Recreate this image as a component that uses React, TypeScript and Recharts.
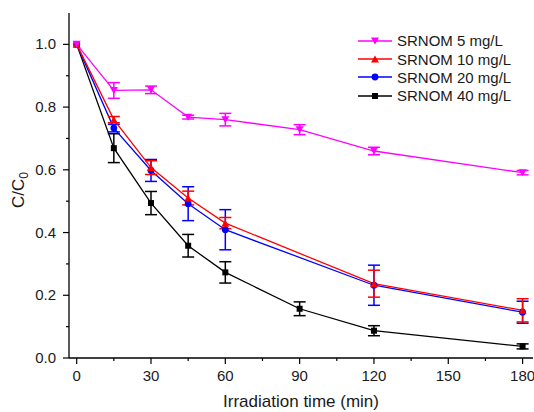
import React from 'react';
import { LineChart, Line, XAxis, YAxis, ErrorBar, Legend, Label } from 'recharts';

const FONT = '"Liberation Sans", Arial, sans-serif';

// irradiation time (min)
const timeAll = [0, 15, 30, 45, 60, 90, 120, 180];
const timeNo90 = [0, 15, 30, 45, 60, 120, 180];

// C/C0 per SRNOM dose, with error bars
const srnom5 = [1.0, 0.853, 0.855, 0.768, 0.76, 0.728, 0.66, 0.591];
const srnom5Err = [null, 0.025, 0.012, 0.006, 0.02, 0.016, 0.012, 0.007];
const srnom10 = [1.0, 0.76, 0.607, 0.51, 0.43, 0.237, 0.152];
const srnom10Err = [null, 0.01, 0.022, 0.022, 0.018, 0.043, 0.037];
const srnom20 = [1.0, 0.733, 0.598, 0.492, 0.409, 0.232, 0.146];
const srnom20Err = [null, 0.012, 0.035, 0.054, 0.064, 0.064, 0.035];
const srnom40 = [1.0, 0.669, 0.494, 0.358, 0.273, 0.157, 0.087, 0.037];
const srnom40Err = [null, 0.046, 0.037, 0.036, 0.034, 0.022, 0.016, 0.008];

const xTicks = [0, 15, 30, 45, 60, 75, 90, 105, 120, 135, 150, 165, 180];
const yTicks = [0, 0.1, 0.2, 0.3, 0.4, 0.5, 0.6, 0.7, 0.8, 0.9, 1.0];

type Shape = 'down' | 'up' | 'circle' | 'square';

const toRows = (t: number[], c: number[], e: (number | null)[]) =>
  t.map((x, i) => ({ t: x, c: c[i], err: e[i] }));

const series = [
  { name: 'SRNOM 5 mg/L', color: '#FF00FF', shape: 'down' as Shape, data: toRows(timeAll, srnom5, srnom5Err) },
  { name: 'SRNOM 10 mg/L', color: '#FF0000', shape: 'up' as Shape, data: toRows(timeNo90, srnom10, srnom10Err) },
  { name: 'SRNOM 20 mg/L', color: '#0000FF', shape: 'circle' as Shape, data: toRows(timeNo90, srnom20, srnom20Err) },
  { name: 'SRNOM 40 mg/L', color: '#000000', shape: 'square' as Shape, data: toRows(timeAll, srnom40, srnom40Err) },
];

const Marker = ({ shape, cx, cy, color }: { shape: Shape; cx: number; cy: number; color: string }) => {
  if (cx == null || cy == null) return <g />;
  if (shape === 'down')
    return <polygon points={`${cx - 4},${cy - 3.5} ${cx + 4},${cy - 3.5} ${cx},${cy + 3.5}`} fill={color} />;
  if (shape === 'up')
    return <polygon points={`${cx - 4},${cy + 3.5} ${cx + 4},${cy + 3.5} ${cx},${cy - 3.5}`} fill={color} />;
  if (shape === 'circle') return <circle cx={cx} cy={cy} r={3.4} fill={color} />;
  return <rect x={cx - 3} y={cy - 3} width={6} height={6} fill={color} />;
};

const XTick = (props: any) => {
  const { x, y, payload } = props;
  const major = payload.value % 30 === 0;
  return (
    <g>
      <line x1={x} x2={x} y1={y} y2={y + (major ? 6 : 3)} stroke="#000" strokeWidth={1.2} />
      {major && (
        <text x={x} y={y + 23} textAnchor="middle" fontSize={15} fontFamily={FONT} fill="#1a1a1a">
          {payload.value}
        </text>
      )}
    </g>
  );
};

const YTick = (props: any) => {
  const { x, y, payload } = props;
  const major = Math.round(payload.value * 10) % 2 === 0;
  return (
    <g>
      <line x1={x - (major ? 6 : 3)} x2={x} y1={y} y2={y} stroke="#000" strokeWidth={1.2} />
      {major && (
        <text x={x - 13} y={y + 5} textAnchor="end" fontSize={15} fontFamily={FONT} fill="#1a1a1a">
          {payload.value.toFixed(1)}
        </text>
      )}
    </g>
  );
};

const XTitle = (props: any) => {
  const { viewBox } = props;
  return (
    <text x={viewBox.x + viewBox.width / 2} y={407} textAnchor="middle" fontSize={17} fontFamily={FONT} fill="#1a1a1a">
      Irradiation time (min)
    </text>
  );
};

const YTitle = () => (
  <text transform="translate(24, 190) rotate(-90)" textAnchor="middle" fontSize={17} fontFamily={FONT} fill="#1a1a1a">
    C/C
    <tspan dy={4} fontSize={12}>0</tspan>
  </text>
);

const LegendBox = () => (
  <div style={{ fontFamily: FONT, fontSize: 15, color: '#1a1a1a' }}>
    {series.map((s) => (
      <div key={s.name} style={{ display: 'flex', alignItems: 'center', height: 18.4 }}>
        <svg width={36} height={18} style={{ display: 'block' }}>
          <line x1={1} x2={35} y1={9} y2={9} stroke={s.color} strokeWidth={1.3} />
          <Marker shape={s.shape} cx={18} cy={9} color={s.color} />
        </svg>
        <span style={{ marginLeft: 4, whiteSpace: 'nowrap' }}>{s.name}</span>
      </div>
    ))}
  </div>
);

export default function App() {
  // draw black first so magenta ends on top
  const drawOrder = [...series].reverse();
  return (
    <div style={{ position: 'absolute', left: 0, top: 0, background: '#fff' }}>
      <LineChart width={534} height={412} margin={{ top: 13, right: 1, bottom: 0, left: 0 }}>
        <XAxis
          dataKey="t"
          type="number"
          domain={[-3.1, 184.2]}
          ticks={xTicks}
          interval={0}
          allowDuplicatedCategory={false}
          height={54}
          tickSize={0}
          tickMargin={0}
          tickLine={false}
          tick={<XTick />}
          axisLine={{ stroke: '#000', strokeWidth: 1.3 }}
        >
          <Label content={<XTitle />} />
        </XAxis>
        <XAxis
          xAxisId="top"
          orientation="top"
          dataKey="t"
          type="number"
          domain={[-3.1, 184.2]}
          height={0}
          tick={false}
          tickLine={false}
          axisLine={{ stroke: '#000', strokeWidth: 1.3 }}
        />
        <YAxis
          type="number"
          domain={[0, 1.1]}
          ticks={yTicks}
          interval={0}
          width={69}
          tickSize={0}
          tickMargin={0}
          tickLine={false}
          tick={<YTick />}
          axisLine={{ stroke: '#000', strokeWidth: 1.3 }}
        >
          <Label content={<YTitle />} />
        </YAxis>
        <Legend
          layout="vertical"
          align="center"
          verticalAlign="middle"
          content={<LegendBox />}
          wrapperStyle={{ left: 357, top: 31.5, width: 'auto', height: 'auto' }}
        />
        {drawOrder.map((s) => (
          <Line
            key={s.name}
            data={s.data}
            dataKey="c"
            name={s.name}
            type="linear"
            stroke={s.color}
            strokeWidth={1.3}
            isAnimationActive={false}
            legendType="none"
            dot={(p: any) => (
              <Marker key={`${s.name}-${p.index}`} shape={s.shape} cx={p.cx} cy={p.cy} color={s.color} />
            )}
            activeDot={false}
          >
            <ErrorBar dataKey="err" width={6} stroke={s.color} strokeWidth={1.5} direction="y" />
          </Line>
        ))}
      </LineChart>
    </div>
  );
}
